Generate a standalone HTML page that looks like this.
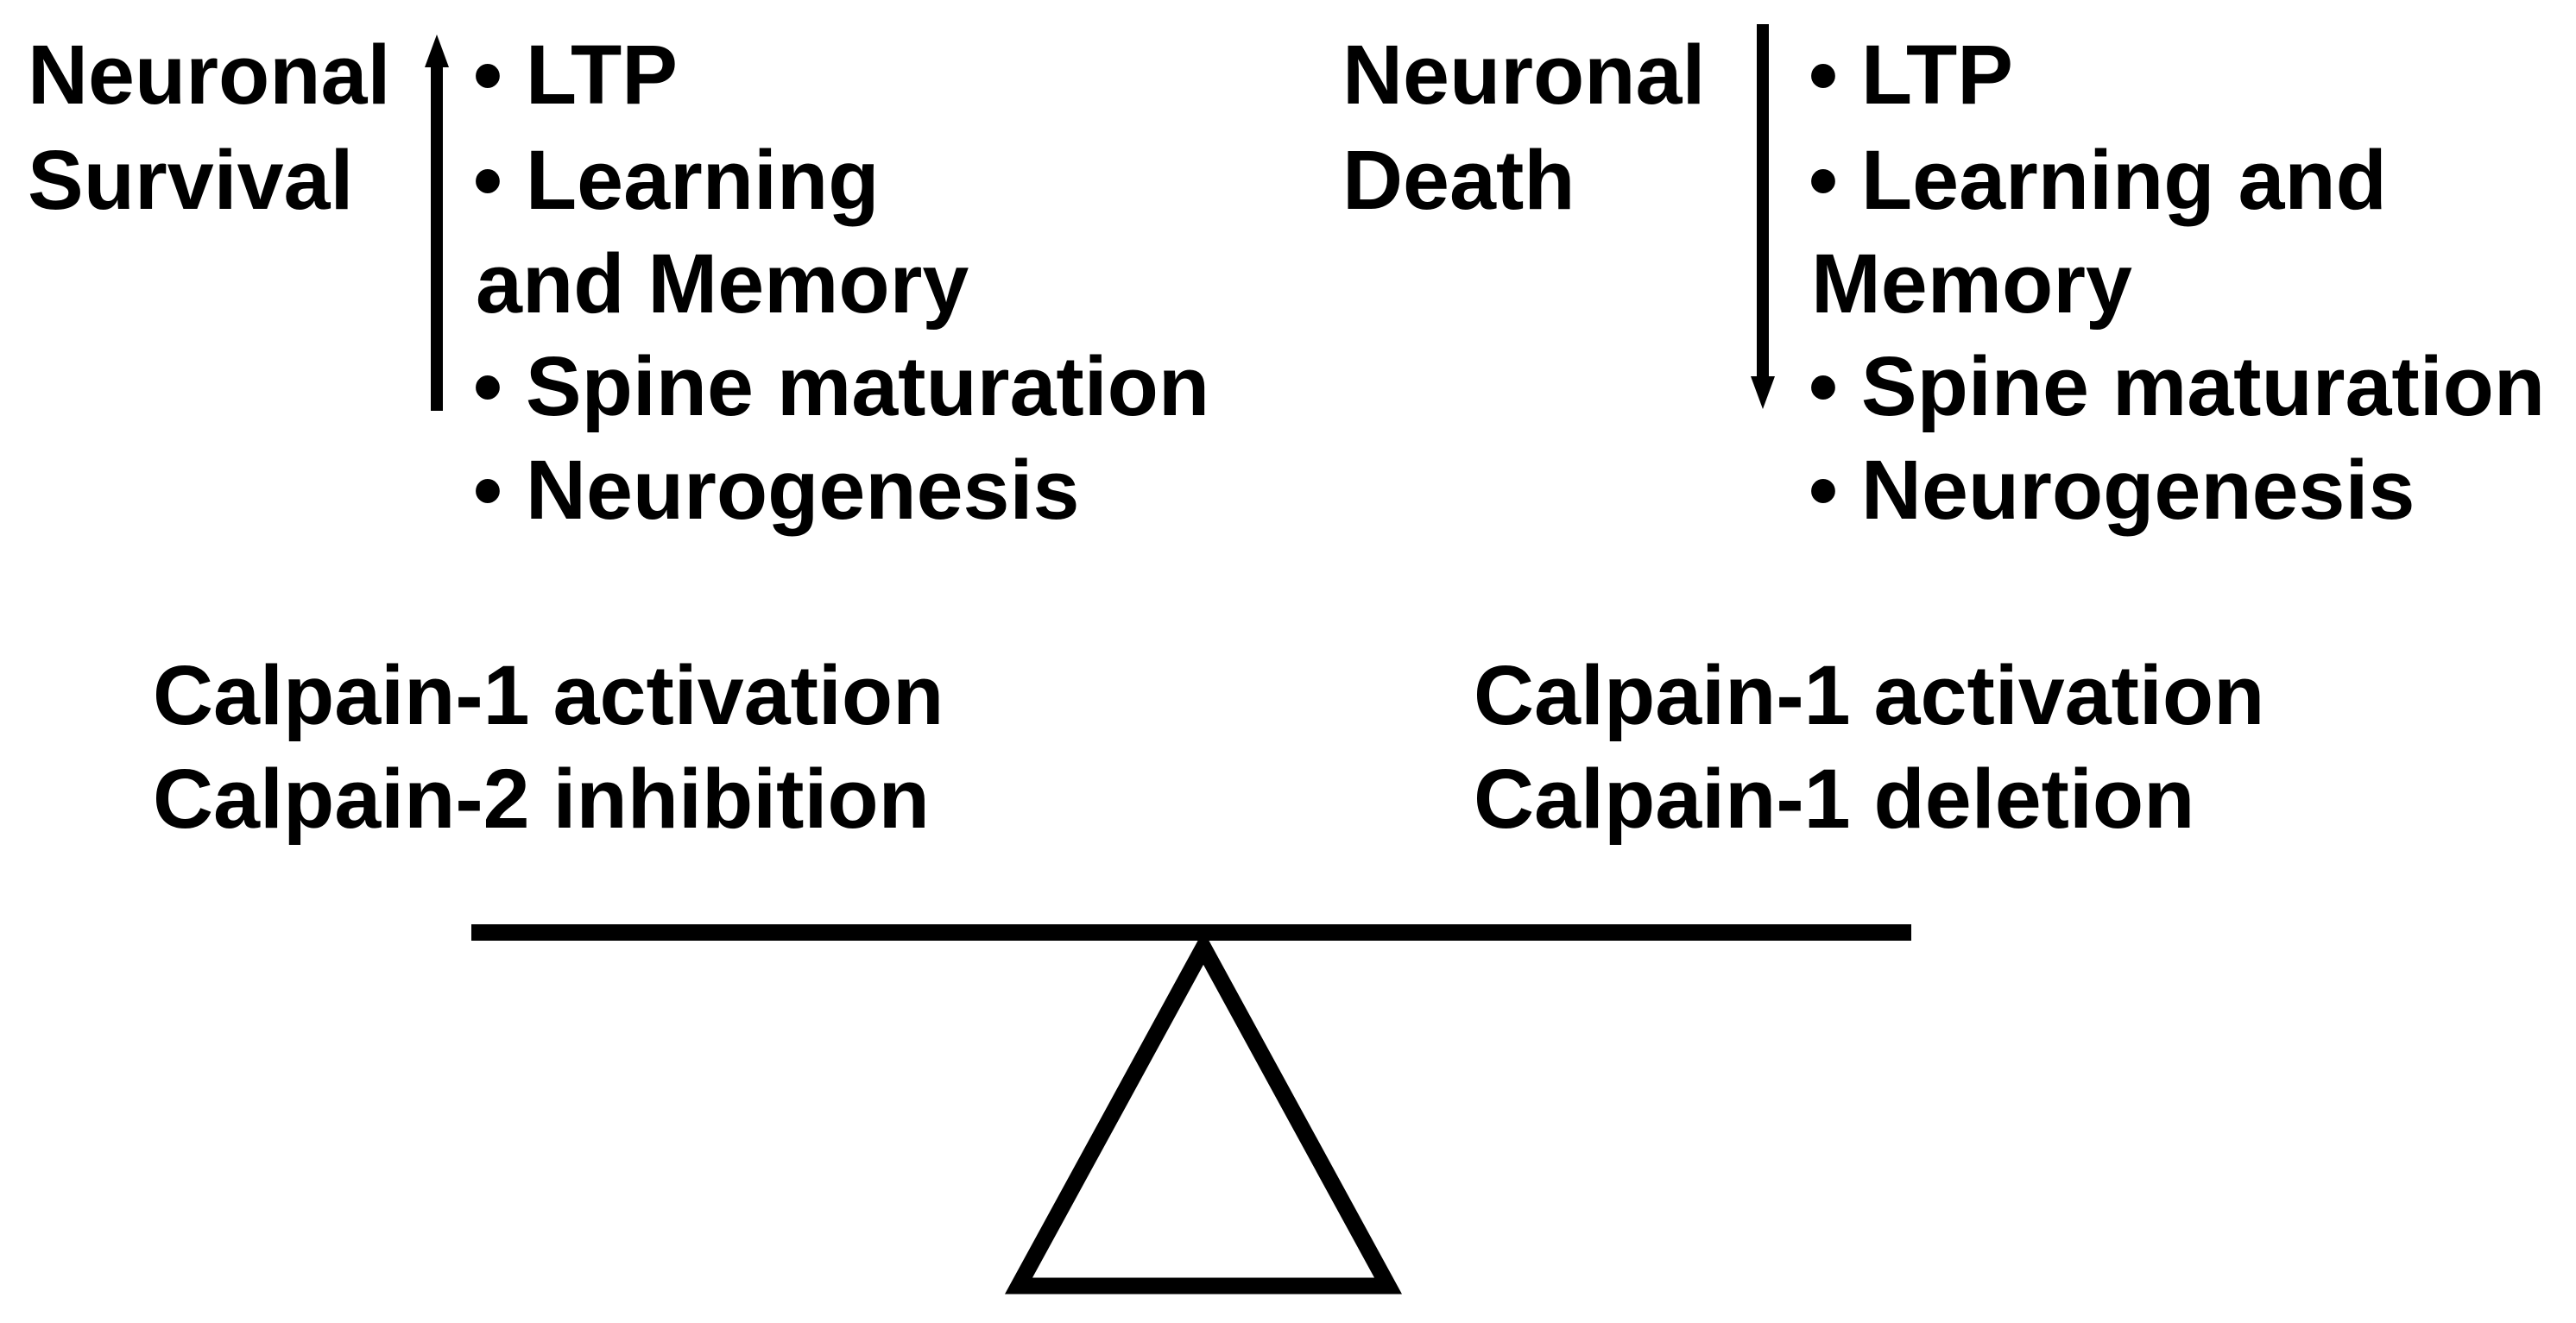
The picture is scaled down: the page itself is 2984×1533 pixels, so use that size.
<!DOCTYPE html>
<html><head><meta charset="utf-8"><style>
html,body{margin:0;padding:0;background:#fff;}
svg{display:block}
text{font-family:"Liberation Sans",Arial,sans-serif;font-weight:bold;font-size:97px;fill:#000}
</style></head><body>
<svg width="2984" height="1533" viewBox="0 0 2984 1533" xmlns="http://www.w3.org/2000/svg">
<rect width="2984" height="1533" fill="#fff"/>
<!-- left block -->
<text x="32" y="120">Neuronal</text>
<text x="32" y="242">Survival</text>
<rect x="499" y="72" width="14" height="404" fill="#000"/>
<polygon points="506,40 492,78 520,78" fill="#000"/>
<text x="548" y="120">• LTP</text>
<text x="548" y="242">• Learning</text>
<text x="551" y="362">and Memory</text>
<text x="548" y="481">• Spine maturation</text>
<text x="548" y="601">• Neurogenesis</text>
<text x="177" y="839">Calpain-1 activation</text>
<text x="177" y="959">Calpain-2 inhibition</text>
<!-- right block -->
<text x="1555" y="120">Neuronal</text>
<text x="1555" y="242">Death</text>
<rect x="2035" y="28" width="14" height="410" fill="#000"/>
<polygon points="2042,474 2028,436 2056,436" fill="#000"/>
<text x="2095" y="120">• LTP</text>
<text x="2095" y="242">• Learning and</text>
<text x="2098" y="362">Memory</text>
<text x="2095" y="481">• Spine maturation</text>
<text x="2095" y="601">• Neurogenesis</text>
<text x="1707" y="839">Calpain-1 activation</text>
<text x="1707" y="959">Calpain-1 deletion</text>
<!-- seesaw -->
<rect x="546" y="1071" width="1668" height="19" fill="#000"/>
<polygon points="1394,1098 1180,1490 1608,1490" fill="none" stroke="#000" stroke-width="19" stroke-linejoin="miter"/>
</svg>
</body></html>
